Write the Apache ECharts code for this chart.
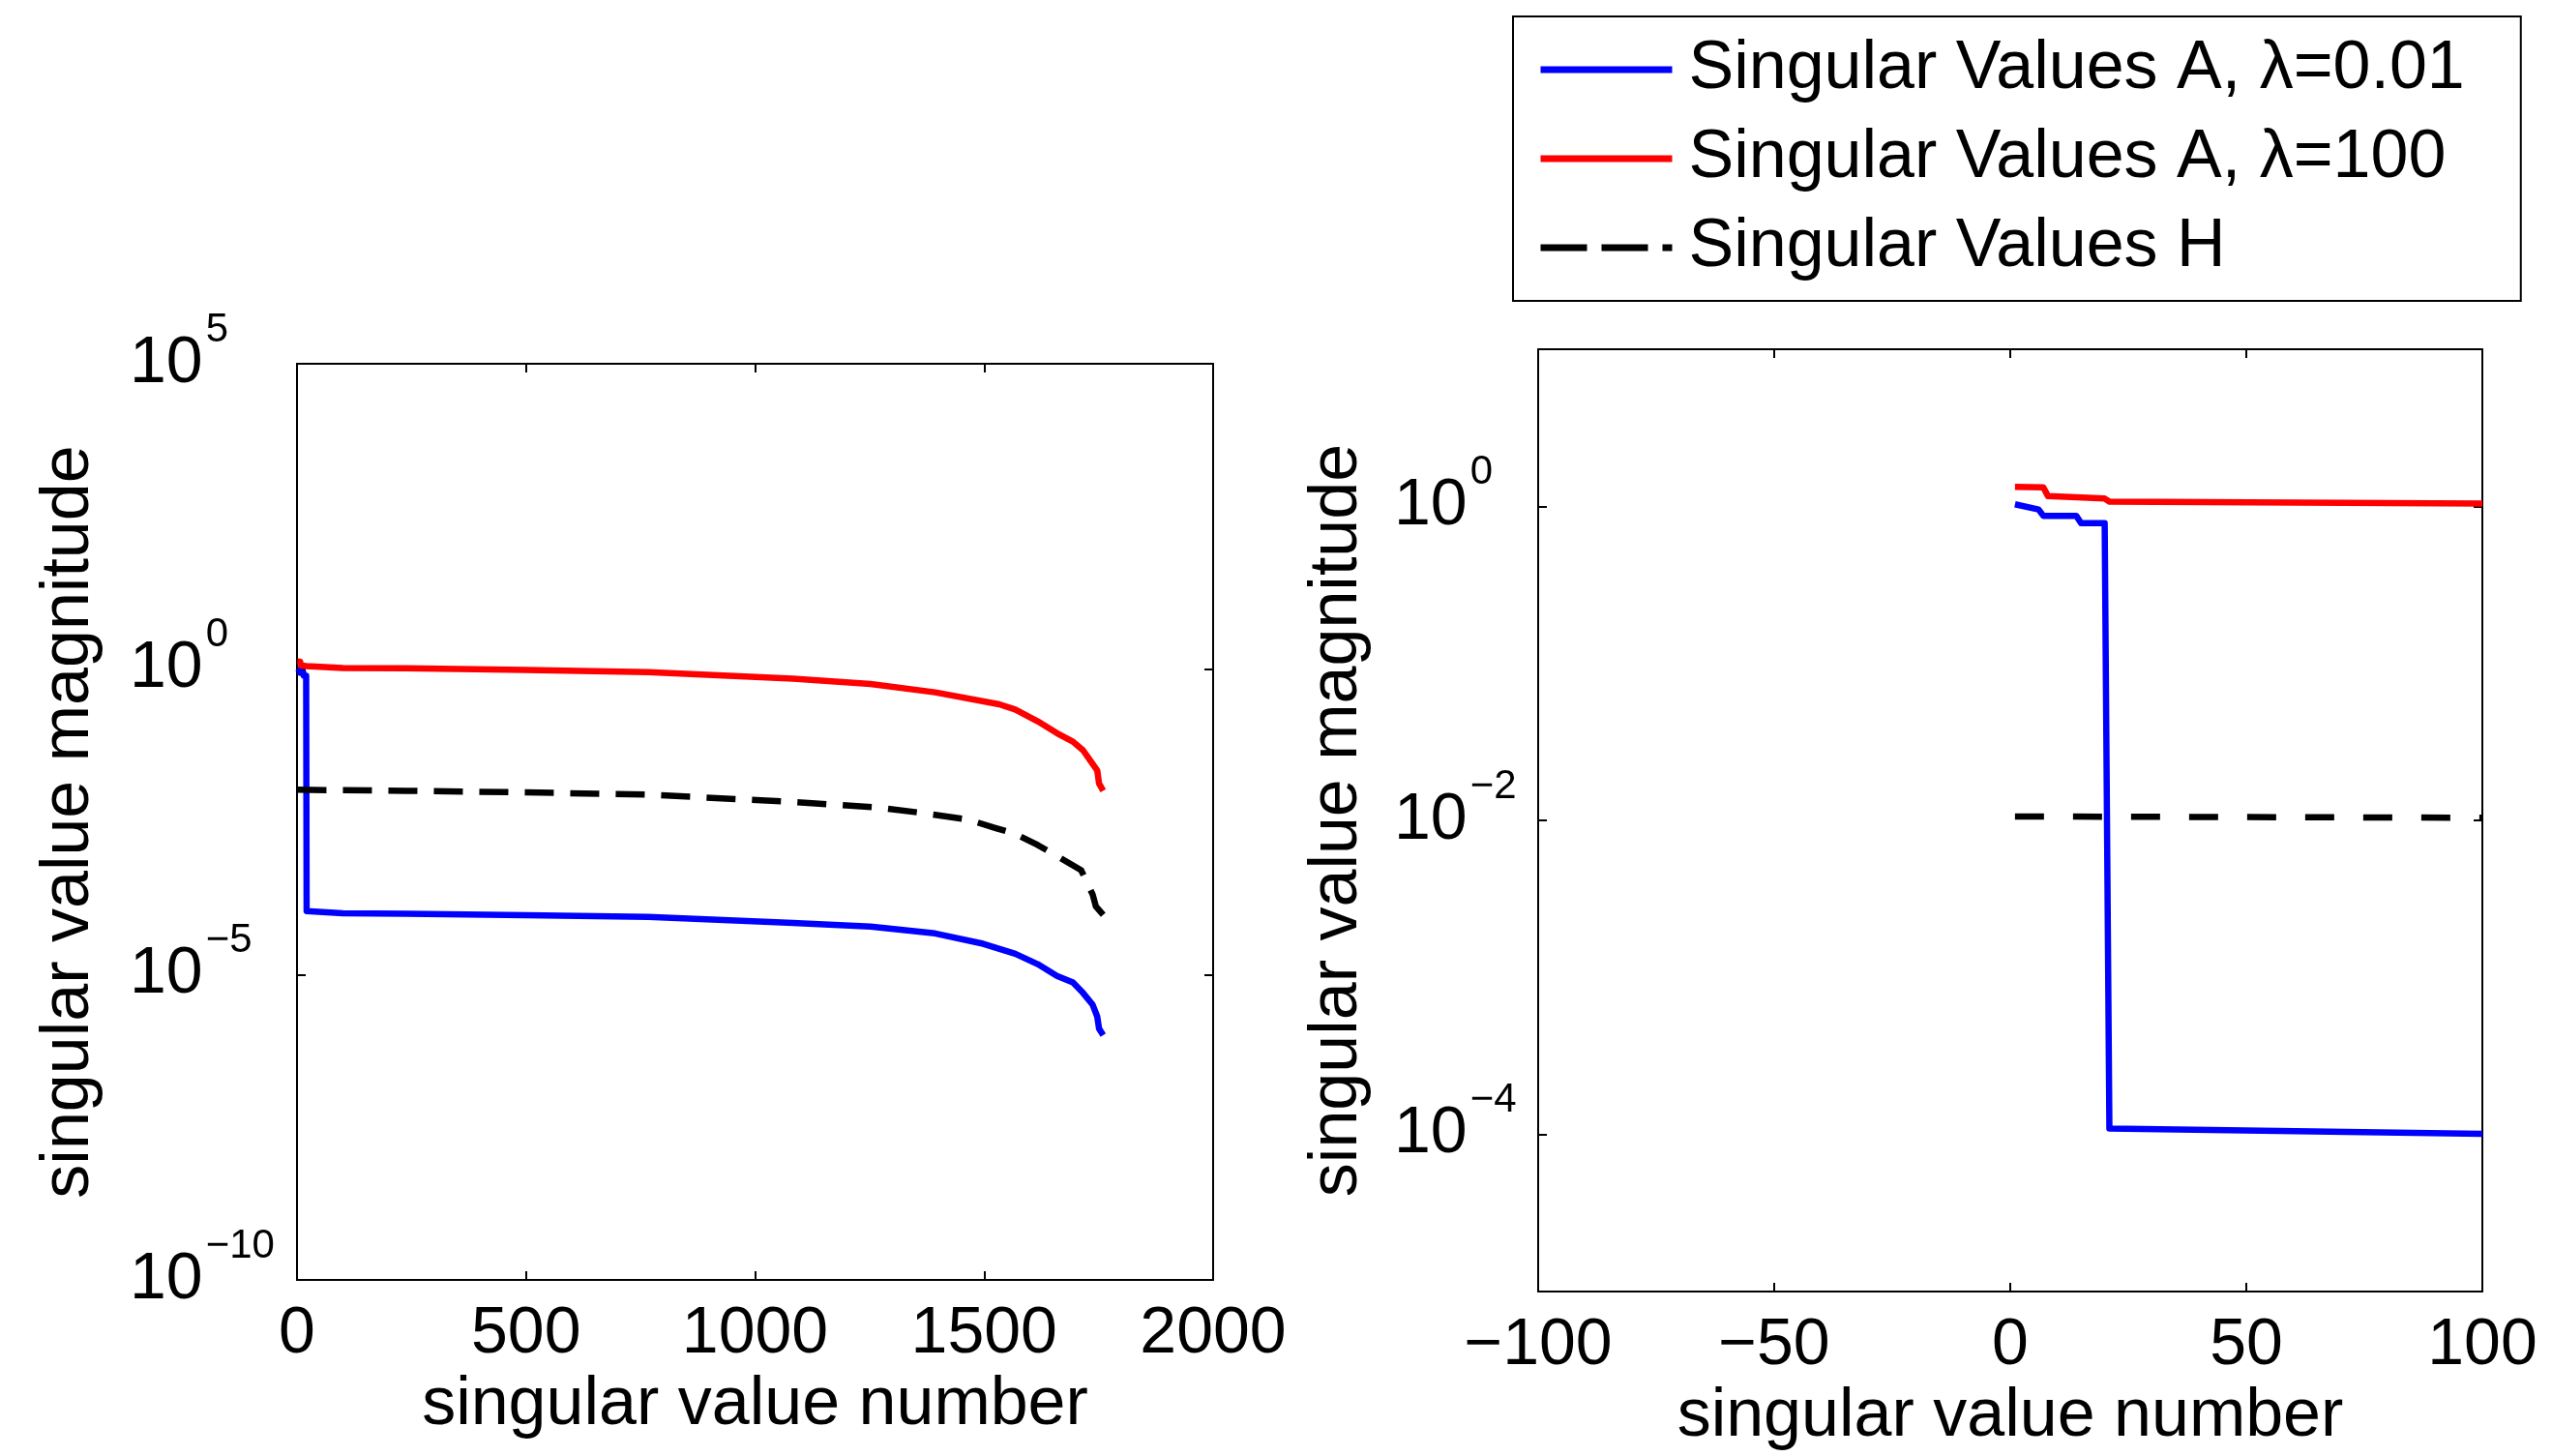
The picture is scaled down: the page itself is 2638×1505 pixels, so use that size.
<!DOCTYPE html>
<html>
<head>
<meta charset="utf-8">
<script src="https://cdn.jsdelivr.net/npm/echarts@6/dist/echarts.min.js"></script>
<style>
html, body { margin: 0; padding: 0; background: #fff; }
#chart { width: 2638px; height: 1505px; }
</style>
</head>
<body>
<div id="chart"></div>
<script>
// singular value number / magnitude
const idxA001 = [1, 6, 7, 14, 15, 20, 21, 100, 239, 500, 767, 1083, 1252, 1393, 1498, 1568, 1617, 1659, 1694, 1716, 1737, 1747, 1751, 1760];
const valA001 = [1.03, 0.955, 0.87, 0.87, 0.78, 0.78, 1.09e-4, 1.01e-4, 0.99e-4, 9.4e-5, 8.8e-5, 7.0e-5, 6.08e-5, 4.71e-5, 3.19e-5, 2.19e-5, 1.48e-5, 9.5e-6, 7.4e-6, 5.0e-6, 3.2e-6, 2.05e-6, 1.3e-6, 1.02e-6];

const idxA100 = [1, 7, 8, 20, 21, 100, 239, 500, 767, 1083, 1252, 1393, 1533, 1568, 1617, 1659, 1694, 1716, 1737, 1747, 1751, 1760];
const valA100 = [1.33, 1.32, 1.16, 1.12, 1.07, 1.04, 1.03, 0.97, 0.89, 0.70, 0.573, 0.417, 0.266, 0.219, 0.14, 0.0897, 0.065, 0.047, 0.028, 0.022, 0.0134, 0.0102];

const idxH = [1, 100, 239, 500, 767, 1083, 1270, 1364, 1466, 1526, 1565, 1617, 1663, 1712, 1737, 1744, 1760];
const valH = [0.0106, 0.0104, 0.0102, 0.0096, 0.0088, 0.0067, 0.0054, 0.00443, 0.00343, 0.00249, 0.00205, 0.00132, 8.4e-4, 5.1e-4, 2.05e-4, 1.31e-4, 9.5e-5];

const xTicksLeft = [0, 500, 1000, 1500, 2000];
const yTicksLeft = [1e-10, 1e-5, 1, 1e5];
const xTicksRight = [-100, -50, 0, 50, 100];
const yTicksRight = [1e-4, 1e-2, 1];

const names = ['Singular Values A, λ=0.01', 'Singular Values A, λ=100', 'Singular Values H'];
const colors = ['#0000ff', '#ff0000', '#000000'];

const FONT = '"Liberation Sans", Helvetica, Arial, sans-serif';

function pairs(xs, ys, maxX) {
    return xs.map((x, i) => [x, ys[i]]).filter(p => p[0] <= maxX);
}

function powLabel(v) {
    const e = Math.round(Math.log10(v));
    return '{b|10}{e|' + (e < 0 ? '\u2212' + (-e) : e) + '}';
}

const axisLine = { show: true, onZero: false, lineStyle: { color: '#000', width: 2 } };
const axisTick = { show: true, inside: true, length: 9, lineStyle: { color: '#000', width: 2 } };
const rich = {
    b: { fontSize: 68, lineHeight: 68, fontFamily: FONT, color: '#000' },
    e: { fontSize: 42, lineHeight: 42, fontFamily: FONT, color: '#000', padding: [0, 0, 70, 3] }
};
const nameStyle = { fontSize: 70, fontFamily: FONT, color: '#000' };

function xAxis(grid, min, max, interval, ticks, top, gap) {
    return {
        type: 'value', gridIndex: grid, min: min, max: max, interval: interval,
        position: top ? 'top' : 'bottom',
        axisLine: axisLine,
        axisTick: Object.assign({ customValues: ticks }, axisTick),
        splitLine: { show: false },
        axisLabel: {
            show: !top, customValues: ticks, margin: 22,
            fontSize: 68, fontFamily: FONT, color: '#000',
            formatter: v => (v < 0 ? '\u2212' + (-v) : '' + v)
        },
        name: top ? '' : 'singular value number',
        nameLocation: 'middle', nameGap: gap, nameTextStyle: nameStyle
    };
}

function yAxis(grid, min, max, interval, ticks, right, margin, gap) {
    return {
        type: 'log', logBase: 10, gridIndex: grid, min: min, max: max, interval: interval,
        position: right ? 'right' : 'left',
        axisLine: axisLine,
        axisTick: Object.assign({ customValues: ticks }, axisTick),
        splitLine: { show: false },
        minorTick: { show: false },
        axisLabel: {
            show: !right, customValues: ticks, margin: margin, align: 'left',
            formatter: powLabel, rich: rich
        },
        name: right ? '' : 'singular value magnitude',
        nameLocation: 'middle', nameGap: gap, nameTextStyle: nameStyle
    };
}

function line(name, color, data, xi, yi, dash) {
    return {
        name: name, type: 'line', xAxisIndex: xi, yAxisIndex: yi,
        data: data, symbol: 'none', showSymbol: false, clip: true,
        lineStyle: { color: color, width: 6.5, type: dash || 'solid', cap: 'butt', join: 'round' },
        itemStyle: { color: color },
        emphasis: { disabled: true }
    };
}

const chart = echarts.init(document.getElementById('chart'));
chart.setOption({
    backgroundColor: '#fff',
    animation: false,
    grid: [
        { left: 307, top: 376, width: 947, height: 947 },
        { left: 1590, top: 361, width: 976, height: 975 }
    ],
    xAxis: [
        xAxis(0, 0, 2000, 500, xTicksLeft, false, 95),
        xAxis(0, 0, 2000, 500, xTicksLeft, true, 0),
        xAxis(1, -100, 100, 50, xTicksRight, false, 95),
        xAxis(1, -100, 100, 50, xTicksRight, true, 0)
    ],
    yAxis: [
        yAxis(0, 1e-10, 1e5, 5, yTicksLeft, false, 173, 200),
        yAxis(0, 1e-10, 1e5, 5, yTicksLeft, true, 0, 0),
        yAxis(1, 1e-5, 1e1, 1, yTicksRight, false, 149, 172),
        yAxis(1, 1e-5, 1e1, 1, yTicksRight, true, 0, 0)
    ],
    legend: {
        orient: 'vertical', left: 1564, top: 17,
        padding: [15, 58, 15, 25],
        itemWidth: 136, itemHeight: 20, itemGap: 12,
        borderColor: '#000', borderWidth: 2, borderRadius: 0,
        backgroundColor: '#fff', selectedMode: false,
        textStyle: { fontFamily: FONT, fontSize: 70, lineHeight: 80, color: '#000', padding: [0, 0, 0, 12] },
        data: [
            { name: names[0], itemStyle: { opacity: 0 }, lineStyle: { width: 7, type: 'solid', color: colors[0] } },
            { name: names[1], itemStyle: { opacity: 0 }, lineStyle: { width: 7, type: 'solid', color: colors[1] } },
            { name: names[2], itemStyle: { opacity: 0 }, lineStyle: { width: 7, type: [48, 15], color: colors[2] } }
        ]
    },
    series: [
        line(names[0], colors[0], pairs(idxA001, valA001, 2000), 0, 0),
        line(names[1], colors[1], pairs(idxA100, valA100, 2000), 0, 0),
        line(names[2], colors[2], pairs(idxH, valH, 2000), 0, 0, [30, 17]),
        line(names[0], colors[0], pairs(idxA001, valA001, 100), 2, 2),
        line(names[1], colors[1], pairs(idxA100, valA100, 100), 2, 2),
        line(names[2], colors[2], pairs(idxH, valH, 100), 2, 2, [30, 30])
    ]
});
</script>
</body>
</html>
